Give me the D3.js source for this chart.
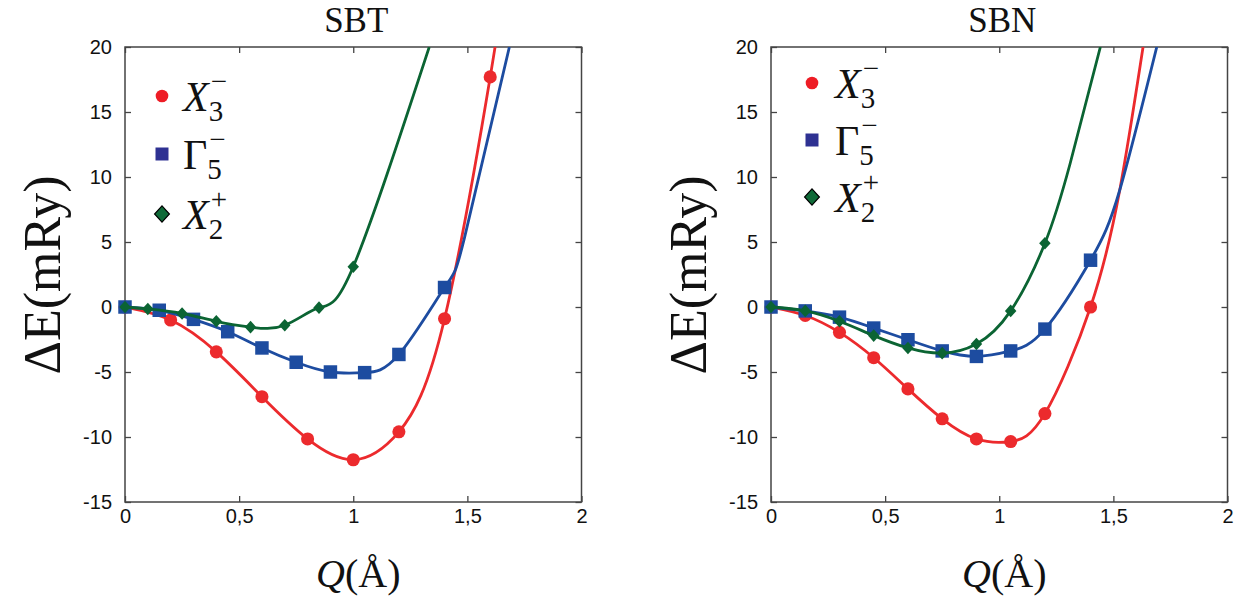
<!DOCTYPE html>
<html>
<head>
<meta charset="utf-8">
<script src="https://cdn.jsdelivr.net/npm/d3@7"></script>
<style>
  body { margin: 0; background: #fff; }
  .tick text { font-family: "Liberation Sans", Arial, sans-serif; font-size: 20px; fill: #111; }
  .serif { font-family: "Liberation Serif", "Times New Roman", serif; fill: #111; }
</style>
</head>
<body>
<svg width="1239" height="604"></svg>
<script>
// ---- data ----
var qTicks = [0, 0.5, 1, 1.5, 2];
var eTicks = [-15, -10, -5, 0, 5, 10, 15, 20];
var panelTitles = ["SBT", "SBN"];

var legendBase = ["X", "\u0393", "X"];
var legendSub = ["3", "5", "2"];
var legendSup = ["\u2212", "\u2212", "+"];

// SBT
var sbtX3Q = [0, 0.2, 0.4, 0.6, 0.8, 1.0, 1.2, 1.4, 1.6];
var sbtX3E = [0, -1.0, -3.45, -6.9, -10.15, -11.75, -9.6, -0.9, 17.7];
var sbtX3TailQ = [1.618];
var sbtX3TailE = [20];

var sbtG5Q = [0, 0.15, 0.3, 0.45, 0.6, 0.75, 0.9, 1.05, 1.2, 1.4];
var sbtG5E = [0, -0.25, -0.95, -1.9, -3.15, -4.25, -5.0, -5.05, -3.65, 1.5];
var sbtG5TailQ = [1.487, 1.684];
var sbtG5TailE = [5.3, 20];

var sbtX2Q = [0, 0.1, 0.25, 0.4, 0.55, 0.7, 0.85, 1.0];
var sbtX2E = [0, -0.15, -0.5, -1.1, -1.55, -1.4, -0.05, 3.1];
var sbtX2TailQ = [1.333];
var sbtX2TailE = [20];

// SBN
var sbnX3Q = [0, 0.15, 0.3, 0.45, 0.6, 0.75, 0.9, 1.05, 1.2, 1.4];
var sbnX3E = [0, -0.65, -1.95, -3.9, -6.3, -8.6, -10.15, -10.35, -8.2, 0];
var sbnX3TailQ = [1.528, 1.63];
var sbnX3TailE = [9.0, 20];

var sbnG5Q = [0, 0.15, 0.3, 0.45, 0.6, 0.75, 0.9, 1.05, 1.2, 1.4];
var sbnG5E = [0, -0.3, -0.78, -1.62, -2.52, -3.38, -3.8, -3.38, -1.7, 3.6];
var sbnG5TailQ = [1.528, 1.69];
var sbnG5TailE = [9.0, 20];

var sbnX2Q = [0, 0.15, 0.3, 0.45, 0.6, 0.75, 0.9, 1.05, 1.2];
var sbnX2E = [0, -0.3, -1.1, -2.2, -3.15, -3.55, -2.85, -0.3, 4.9];
var sbnX2TailQ = [1.31, 1.443];
var sbnX2TailE = [11, 20];

// ---- layout ----
var svg = d3.select("svg"),
    marginTop = 47,
    width = 456.5,
    height = 455;

var red = "#ec2a2d", blue = "#1d4ca0", green = "#0b6433";

var diamond = {
  draw: function(ctx, size) {
    var r = Math.sqrt(size / 2);
    ctx.moveTo(0, -r * 1.1);
    ctx.lineTo(r, 0);
    ctx.lineTo(0, r * 1.1);
    ctx.lineTo(-r, 0);
    ctx.closePath();
  }
};

function zip(q, e) {
  return q.map(function(v, i) { return { q: v, e: e[i] }; });
}

var fmtQ = d3.formatLocale({ decimal: ",", thousands: ".", grouping: [3], currency: ["", ""] }).format("~g");

var panels = [
  {
    left: 125, title: panelTitles[0], ylabX: -83,
    legendX: 37, legendY: [49, 107, 167], legendTextDx: 21,
    series: [
      { pts: zip(sbtX3Q, sbtX3E), tail: zip(sbtX3TailQ, sbtX3TailE), color: red, shape: d3.symbolCircle, size: 135 },
      { pts: zip(sbtG5Q, sbtG5E), tail: zip(sbtG5TailQ, sbtG5TailE), color: blue, shape: d3.symbolSquare, size: 182 },
      { pts: zip(sbtX2Q, sbtX2E), tail: zip(sbtX2TailQ, sbtX2TailE), color: green, shape: diamond, size: 66 }
    ]
  },
  {
    left: 771, title: panelTitles[1], ylabX: -83,
    legendX: 41, legendY: [36, 93, 150], legendTextDx: 23,
    series: [
      { pts: zip(sbnX3Q, sbnX3E), tail: zip(sbnX3TailQ, sbnX3TailE), color: red, shape: d3.symbolCircle, size: 135 },
      { pts: zip(sbnG5Q, sbnG5E), tail: zip(sbnG5TailQ, sbnG5TailE), color: blue, shape: d3.symbolSquare, size: 182 },
      { pts: zip(sbnX2Q, sbnX2E), tail: zip(sbnX2TailQ, sbnX2TailE), color: green, shape: diamond, size: 66 }
    ]
  }
];

panels.forEach(function(p, pi) {
  var g = svg.append("g").attr("transform", "translate(" + p.left + "," + marginTop + ")");

  var xScale = d3.scaleLinear().domain([0, 2]).range([0, width]),
      yScale = d3.scaleLinear().domain([-15, 20]).range([height, 0]);

  g.append("clipPath").attr("id", "clip" + pi)
    .append("rect").attr("width", width).attr("height", height);

  // axes (ticks point inward on all four sides)
  var ax = [
    { a: d3.axisBottom(xScale).tickValues(qTicks).tickFormat(fmtQ).tickPadding(7), t: "translate(0," + height + ")" },
    { a: d3.axisTop(xScale).tickValues(qTicks).tickFormat(""), t: null },
    { a: d3.axisLeft(yScale).tickValues(eTicks).tickFormat(function(d) { return String(d); }).tickPadding(13), t: null },
    { a: d3.axisRight(yScale).tickValues(eTicks).tickFormat(""), t: "translate(" + width + ",0)" }
  ];
  ax.forEach(function(o) {
    var sel = g.append("g").attr("transform", o.t)
      .call(o.a.tickSizeInner(-6).tickSizeOuter(0));
    sel.select(".domain").remove();
    sel.selectAll("line").attr("stroke", "#444").attr("stroke-width", 1.3);
  });

  g.append("rect")
    .attr("width", width).attr("height", height)
    .attr("fill", "none").attr("stroke", "#444").attr("stroke-width", 1.5);

  // curves + markers
  var line = d3.line()
    .x(function(d) { return xScale(d.q); })
    .y(function(d) { return yScale(d.e); })
    .curve(d3.curveNatural);

  p.series.forEach(function(s) {
    g.append("path")
      .attr("clip-path", "url(#clip" + pi + ")")
      .attr("d", line(s.pts.concat(s.tail)))
      .attr("fill", "none")
      .attr("stroke", s.color)
      .attr("stroke-width", 2.8);

    g.selectAll(null)
      .data(s.pts)
      .enter().append("path")
      .attr("transform", function(d) { return "translate(" + xScale(d.q) + "," + yScale(d.e) + ")"; })
      .attr("d", d3.symbol().type(s.shape).size(s.size))
      .attr("fill", s.color);
  });

  // legend
  var legColors = ["#ee1c25", "#2e3192", "#0f6a38"];
  var legShapes = [d3.symbolCircle, d3.symbolSquare, diamond];
  var legSizes = [125, 169, 110];
  legendBase.forEach(function(b, i) {
    var ly = p.legendY[i];
    g.append("path")
      .attr("transform", "translate(" + p.legendX + "," + ly + ")")
      .attr("d", d3.symbol().type(legShapes[i]).size(legSizes[i]))
      .attr("fill", legColors[i])
      .attr("stroke", i === 2 ? "#000" : "none")
      .attr("stroke-width", 1.2);

    var tx = p.legendX + p.legendTextDx, base = ly + 15;
    var bt = g.append("text").attr("class", "serif")
      .attr("x", tx).attr("y", base)
      .style("font-size", "42px")
      .style("font-style", i === 1 ? "normal" : "italic")
      .text(b);
    var w = bt.node().getComputedTextLength();
    g.append("text").attr("class", "serif")
      .attr("x", tx + w).attr("y", base + 10)
      .style("font-size", "29px").text(legendSub[i]);
    g.append("text").attr("class", "serif")
      .attr("x", tx + w + 2).attr("y", base - 20)
      .style("font-size", "29px").text(legendSup[i]);
  });

  // title
  g.append("text").attr("class", "serif")
    .attr("x", width / 2 + 3).attr("y", -15)
    .attr("text-anchor", "middle")
    .style("font-size", "35px")
    .text(p.title);

  // x label
  var xl = g.append("text").attr("class", "serif")
    .attr("x", width / 2 + 5).attr("y", height + 85)
    .attr("text-anchor", "middle")
    .style("font-size", "40px");
  xl.append("tspan").style("font-style", "italic").text("Q");
  xl.append("tspan").text("(\u00C5)");

  // y label
  g.append("text")
    .attr("transform", "translate(" + p.ylabX + "," + (275 - marginTop) + ") rotate(-90)")
    .attr("text-anchor", "middle")
    .attr("dy", "0.35em")
    .style("font-family", "'Liberation Serif', 'DejaVu Serif', serif")
    .style("fill", "#111")
    .style("font-size", "52px")
    .text("\u0394E(mRy)");
});
</script>
</body>
</html>
